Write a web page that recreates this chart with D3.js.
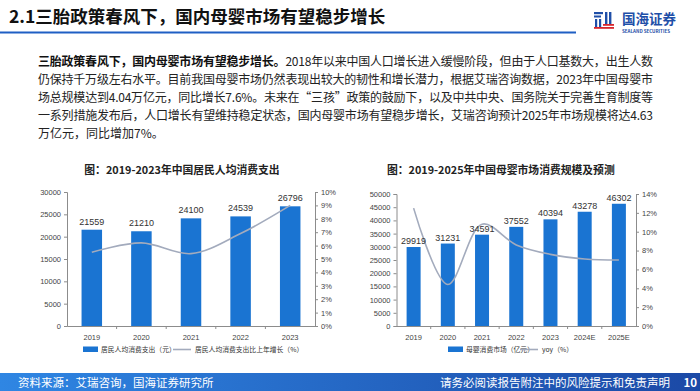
<!DOCTYPE html>
<html>
<head>
<meta charset="utf-8">
<script src="https://cdn.jsdelivr.net/npm/d3@7"></script>
<style>
  body { margin: 0; background: #fff; }
  svg { display: block; font-family: 'Noto Sans CJK SC', 'Noto Sans', sans-serif; }
</style>
</head>
<body>
<div id="page"></div>
<script>
// Data
const years1 = ['2019', '2020', '2021', '2022', '2023'];
const spend = [21559, 21210, 24100, 24539, 26796];
const spendYoy = [5.5, 6.2, 5.4, 6.9, 9.0];
const spendTicks = [0, 5000, 10000, 15000, 20000, 25000, 30000];
const spendPctTicks = [0, 1, 2, 3, 4, 5, 6, 7, 8, 9, 10];

const years2 = ['2019', '2020', '2021', '2022', '2023', '2024E', '2025E'];
const market = [29919, 31231, 34591, 37552, 40394, 43278, 46302];
const marketYoy = [12.5, 4.4, 10.8, 8.6, 7.6, 7.1, 7.0];
const marketTicks = [0, 5000, 10000, 15000, 20000, 25000, 30000, 35000, 40000, 45000, 50000];
const marketPctTicks = [0, 2, 4, 6, 8, 10, 12, 14];

const bodyLines = [
  ['三胎政策春风下，国内母婴市场有望稳步增长。', '2018年以来中国人口增长进入缓慢阶段，但由于人口基数大，出生人数'],
  ['', '仍保持千万级左右水平。目前我国母婴市场仍然表现出较大的韧性和增长潜力，根据艾瑞咨询数据，2023年中国母婴市'],
  ['', '场总规模达到4.04万亿元，同比增长7.6%。未来在“三孩”政策的鼓励下，以及中共中央、国务院关于完善生育制度等'],
  ['', '一系列措施发布后，人口增长有望维持稳定状态，国内母婴市场有望稳步增长，艾瑞咨询预计2025年市场规模将达4.63'],
  ['', '万亿元，同比增加7%。'],
];

const W = 700;
const H = 391;
const barColor = '#1a74d2';
const lineColor = '#a3abbd';
const axisColor = '#8c8c8c';

const svg = d3.select('#page').append('svg').attr('width', W).attr('height', H);

// header
svg.append('text')
  .attr('x', 9).attr('y', 23)
  .attr('font-size', 17.5).attr('font-weight', 'bold').attr('fill', '#111')
  .text('2.1三胎政策春风下，国内母婴市场有望稳步增长');

svg.append('line')
  .attr('x1', 0).attr('x2', 576).attr('y1', 32.5).attr('y2', 32.5)
  .attr('stroke', '#1f5fc4').attr('stroke-width', 2);

// logo
const logo = svg.append('g').attr('transform', 'translate(594,12)');
logo.append('rect').attr('x', 0).attr('y', 0).attr('width', 9).attr('height', 2.2).attr('fill', '#1f4fa8');
logo.append('rect').attr('x', 0).attr('y', 3.5).attr('width', 7).attr('height', 2).attr('fill', '#1f4fa8');
logo.append('rect').attr('x', 1).attr('y', 7).attr('width', 2.2).attr('height', 9).attr('fill', '#1f4fa8');
logo.append('rect').attr('x', 5).attr('y', 7).attr('width', 2.2).attr('height', 9).attr('fill', '#1f4fa8');
logo.append('rect').attr('x', 11).attr('y', 0).attr('width', 2.4).attr('height', 13).attr('fill', '#1f4fa8');
logo.append('rect').attr('x', 15).attr('y', 0).attr('width', 2.4).attr('height', 13).attr('fill', '#1f4fa8');
logo.append('rect').attr('x', 9).attr('y', 12).attr('width', 11).attr('height', 1.8).attr('fill', '#d8262d');
logo.append('rect').attr('x', 0).attr('y', 15).attr('width', 20).attr('height', 1.8).attr('fill', '#d8262d');
logo.append('text').attr('x', 28).attr('y', 11.5)
  .attr('font-size', 13.5).attr('font-weight', 'bold').attr('fill', '#1f4fa8').text('国海证券');
logo.append('text').attr('x', 28).attr('y', 20.5)
  .attr('font-size', 4.6).attr('font-weight', 'bold').attr('fill', '#1f4fa8')
  .attr('textLength', 48).attr('lengthAdjust', 'spacingAndGlyphs').text('SEALAND SECURITIES');

// body paragraph
const bodyY = d3.scaleLinear().domain([0, 4]).range([66, 138]);
bodyLines.forEach((ln, i) => {
  const t = svg.append('text')
    .attr('x', 38).attr('y', bodyY(i))
    .attr('font-size', 12).attr('fill', '#222');
  if (i < 4) t.attr('textLength', 615).attr('lengthAdjust', 'spacing');
  if (ln[0]) t.append('tspan').attr('font-weight', 'bold').attr('fill', '#111').text(ln[0]);
  t.append('tspan').text(ln[1]);
});

// combo chart helper
function drawCombo(cfg) {
  const g = svg.append('g');
  const x = d3.scaleBand().domain(cfg.cats).range([cfg.left, cfg.right]);
  const y = d3.scaleLinear().domain([0, cfg.yMax]).range([cfg.bottom, cfg.top]);
  const y2 = d3.scaleLinear().domain([0, cfg.y2Max]).range([cfg.bottom, cfg.top]);

  g.append('text')
    .attr('x', cfg.titleX).attr('y', 174)
    .attr('text-anchor', cfg.titleAnchor)
    .attr('font-size', 10.8).attr('font-weight', 'bold').attr('fill', '#222')
    .text(cfg.title);

  // bars
  g.selectAll('rect.bar')
    .data(cfg.values)
    .join('rect')
    .attr('class', 'bar')
    .attr('x', (d, i) => x(cfg.cats[i]) + (x.bandwidth() - cfg.barW) / 2)
    .attr('y', (d) => y(d))
    .attr('width', cfg.barW)
    .attr('height', (d) => cfg.bottom - y(d))
    .attr('fill', barColor);

  // line
  const line = d3.line()
    .x((d, i) => x(cfg.cats[i]) + x.bandwidth() / 2)
    .y((d) => y2(d))
    .curve(d3.curveCatmullRom.alpha(0.5));
  g.append('path')
    .attr('d', line(cfg.yoy))
    .attr('fill', 'none')
    .attr('stroke', lineColor)
    .attr('stroke-width', 1.6);

  // bar labels
  g.selectAll('text.lbl')
    .data(cfg.values)
    .join('text')
    .attr('class', 'lbl')
    .attr('x', (d, i) => x(cfg.cats[i]) + x.bandwidth() / 2)
    .attr('y', (d) => y(d) - cfg.lblGap)
    .attr('text-anchor', 'middle')
    .attr('font-size', 9).attr('fill', '#333')
    .attr('font-family', 'Liberation Sans, Arial, sans-serif')
    .text((d) => d);

  // axes
  const axL = g.append('g')
    .attr('transform', `translate(${cfg.left},0)`)
    .call(d3.axisLeft(y).tickValues(cfg.yTicks).tickSize(3).tickFormat(d3.format('d')));
  const axR = g.append('g')
    .attr('transform', `translate(${cfg.right},0)`)
    .call(d3.axisRight(y2).tickValues(cfg.y2Ticks).tickSize(3).tickFormat((d) => `${d}%`));
  const axB = g.append('g')
    .attr('transform', `translate(0,${cfg.bottom})`)
    .call(d3.axisBottom(x).tickSize(0).tickPadding(9));
  // category boundary ticks
  g.selectAll('line.sep')
    .data(cfg.cats.slice(1))
    .join('line')
    .attr('class', 'sep')
    .attr('x1', (d) => x(d)).attr('x2', (d) => x(d))
    .attr('y1', cfg.bottom).attr('y2', cfg.bottom + 3)
    .attr('stroke', axisColor);

  [axL, axR, axB].forEach((a) => {
    a.select('.domain').attr('stroke', axisColor);
    a.selectAll('.tick line').attr('stroke', axisColor);
    a.selectAll('.tick text')
      .attr('fill', '#444')
      .attr('font-size', 7.5)
      .attr('font-family', 'Liberation Sans, Arial, sans-serif');
  });
  axB.selectAll('.tick text').attr('font-size', 7.5);

  // legend
  const lg = g.append('g').attr('font-size', 6.8).attr('fill', '#333');
  lg.append('rect')
    .attr('x', cfg.legX).attr('y', 346.5).attr('width', 15).attr('height', 5.5)
    .attr('fill', barColor);
  lg.append('text').attr('x', cfg.legX + 18).attr('y', 352).text(cfg.leg1);
  lg.append('line')
    .attr('x1', cfg.legX2).attr('x2', cfg.legX2 + 18).attr('y1', 349.5).attr('y2', 349.5)
    .attr('stroke', lineColor).attr('stroke-width', 1.6);
  lg.append('text').attr('x', cfg.legX2 + 22).attr('y', 352).text(cfg.leg2);
}

drawCombo({
  cats: years1, values: spend, yoy: spendYoy,
  left: 67, right: 315, top: 192, bottom: 326,
  yMax: 30000, y2Max: 10, yTicks: spendTicks, y2Ticks: spendPctTicks,
  barW: 20.5, lblGap: 5,
  title: '图：2019-2023年中国居民人均消费支出', titleX: 182, titleAnchor: 'middle',
  legX: 83, leg1: '居民人均消费支出（元）',
  legX2: 173, leg2: '居民人均消费支出比上年增长（%）',
});

drawCombo({
  cats: years2, values: market, yoy: marketYoy,
  left: 396.5, right: 636, top: 194, bottom: 326,
  yMax: 50000, y2Max: 14, yTicks: marketTicks, y2Ticks: marketPctTicks,
  barW: 14, lblGap: 3,
  title: '图：2019-2025年中国母婴市场消费规模及预测', titleX: 387, titleAnchor: 'start',
  legX: 448, leg1: '母婴消费市场（亿元）',
  legX2: 520, leg2: 'yoy（%）',
});

// footer
const grad = svg.append('defs').append('linearGradient').attr('id', 'foot');
grad.append('stop').attr('offset', '0%').attr('stop-color', '#2f86e3');
grad.append('stop').attr('offset', '100%').attr('stop-color', '#1b49a6');
svg.append('rect')
  .attr('x', 0).attr('y', 373).attr('width', W).attr('height', H - 373)
  .attr('fill', 'url(#foot)');
svg.append('text')
  .attr('x', 18).attr('y', 386.5)
  .attr('font-size', 11.5).attr('fill', '#fff')
  .text('资料来源：艾瑞咨询，国海证券研究所');
svg.append('text')
  .attr('x', 670).attr('y', 386.5).attr('text-anchor', 'end')
  .attr('font-size', 11.5).attr('fill', '#fff')
  .text('请务必阅读报告附注中的风险提示和免责声明');
svg.append('text')
  .attr('x', 697).attr('y', 386.5).attr('text-anchor', 'end')
  .attr('font-size', 11.5).attr('fill', '#fff').attr('font-weight', 'bold')
  .text('10');
</script>
</body>
</html>
